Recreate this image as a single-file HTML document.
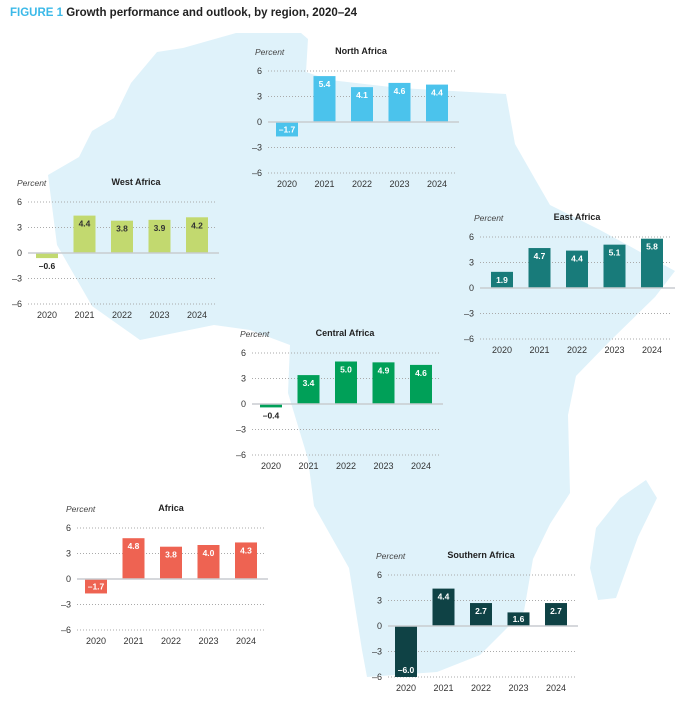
<!DOCTYPE html>
<html><head><meta charset="utf-8"><style>
body{margin:0;background:#fff;}
svg{display:block;font-family:"Liberation Sans",sans-serif;}
</style></head><body>
<svg id="s" width="681" height="726" viewBox="0 0 681 726" xmlns="http://www.w3.org/2000/svg">
<path fill="#DFF2FA" d="M236,33 L301,33 L308,39 L306,72 L330,80 L400,88 L470,92 L506,94 L515,144 L535,179 L550,205 L600,230 L675,271 L655,297 L611,340 L576,376 L568,415 L570,493 L550,524 L533,559 L524,611 L480,655 L437,672 L367,677 L362,650 L349,568 L314,506 L308,459 L288,393 L290,345 L250,330 L214,325 L140,340 L92,306 L57,245 L48,175 L79,157 L92,131 L114,118 L131,83 L157,52 L183,48 Z"/>
<path fill="#DFF2FA" d="M646,480 L657,498 L638,537 L616,598 L598,600 L590,568 L596,528 L620,498 Z"/>
<text x="10" y="16" font-size="11.5" font-weight="bold"><tspan fill="#3BB9E8">FIGURE 1</tspan><tspan fill="#222"> Growth performance and outlook, by region, 2020–24</tspan></text>
</svg>
<script>
var s=document.getElementById('s'),NS='http://www.w3.org/2000/svg';
function el(t,a,txt){var e=document.createElementNS(NS,t);for(var k in a)e.setAttribute(k,a[k]);if(txt!=null)e.textContent=txt;s.appendChild(e);return e;}
var charts=[
{t:'North Africa',z:122,g0:268,g1:456,c:287,tx:361,px:255,col:'#4BC3EC',lc:'#fff',v:[-1.7,5.4,4.1,4.6,4.4]},
{t:'West Africa',z:253,g0:28,g1:216,c:47,tx:136,px:17,col:'#C2D96F',lc:'#333',v:[-0.6,4.4,3.8,3.9,4.2]},
{t:'East Africa',z:288,g0:480,g1:672,c:502,tx:577,px:474,col:'#187B7A',lc:'#fff',v:[1.9,4.7,4.4,5.1,5.8]},
{t:'Central Africa',z:404,g0:252,g1:440,c:271,tx:345,px:240,col:'#00A058',lc:'#fff',v:[-0.4,3.4,5.0,4.9,4.6]},
{t:'Africa',z:579,g0:77,g1:265,c:96,tx:171,px:66,col:'#EE6352',lc:'#fff',v:[-1.7,4.8,3.8,4.0,4.3]},
{t:'Southern Africa',z:626,g0:388,g1:575,c:406,tx:481,px:376,col:'#0F4245',lc:'#fff',v:[-6.0,4.4,2.7,1.6,2.7]}];
var u=8.5,st=37.5;
charts.forEach(function(ch){
 el('text',{x:ch.px,y:ch.z-67,'font-size':8.5,'font-style':'italic',fill:'#444'},'Percent');
 el('text',{x:ch.tx,y:ch.z-68,'font-size':9,'font-weight':'bold','text-anchor':'middle',fill:'#222'},ch.t);
 [6,3,0,-3,-6].forEach(function(t){var y=ch.z-t*u;
  el('text',{x:ch.g0-6,y:y+3,'font-size':9,'text-anchor':'end',fill:'#333'},t<0?'–'+(-t):t);
  if(t!=0)el('line',{x1:ch.g0,x2:ch.g1,y1:y,y2:y,stroke:'#aaa','stroke-width':1,'stroke-dasharray':'1,2'});
 });
 ch.v.forEach(function(v,i){var cx=ch.c+i*st,h=Math.abs(v)*u,top=v>=0?ch.z-h:ch.z;
  el('rect',{x:cx-11,y:top,width:22,height:h,fill:ch.col});
  var lab=(v<0?'–':'')+Math.abs(v).toFixed(1),ly,lc=ch.lc;
  if(h<10&&v<0){ly=ch.z+h+11;lc='#222';}
  else if(v<0){ly=ch.z+h-4;}
  else if(h<16){ly=top+h/2+3;}
  else ly=top+11;
  el('text',{x:cx,y:ly,'font-size':8.5,'font-weight':'bold','text-anchor':'middle',fill:lc},lab);
  el('text',{x:cx,y:ch.z+65,'font-size':9,'text-anchor':'middle',fill:'#333'},2020+i);
 });
 el('line',{x1:ch.g0,x2:ch.g1+3,y1:ch.z,y2:ch.z,stroke:'#c8ccd0','stroke-width':1.5});
});
</script>
</body></html>
